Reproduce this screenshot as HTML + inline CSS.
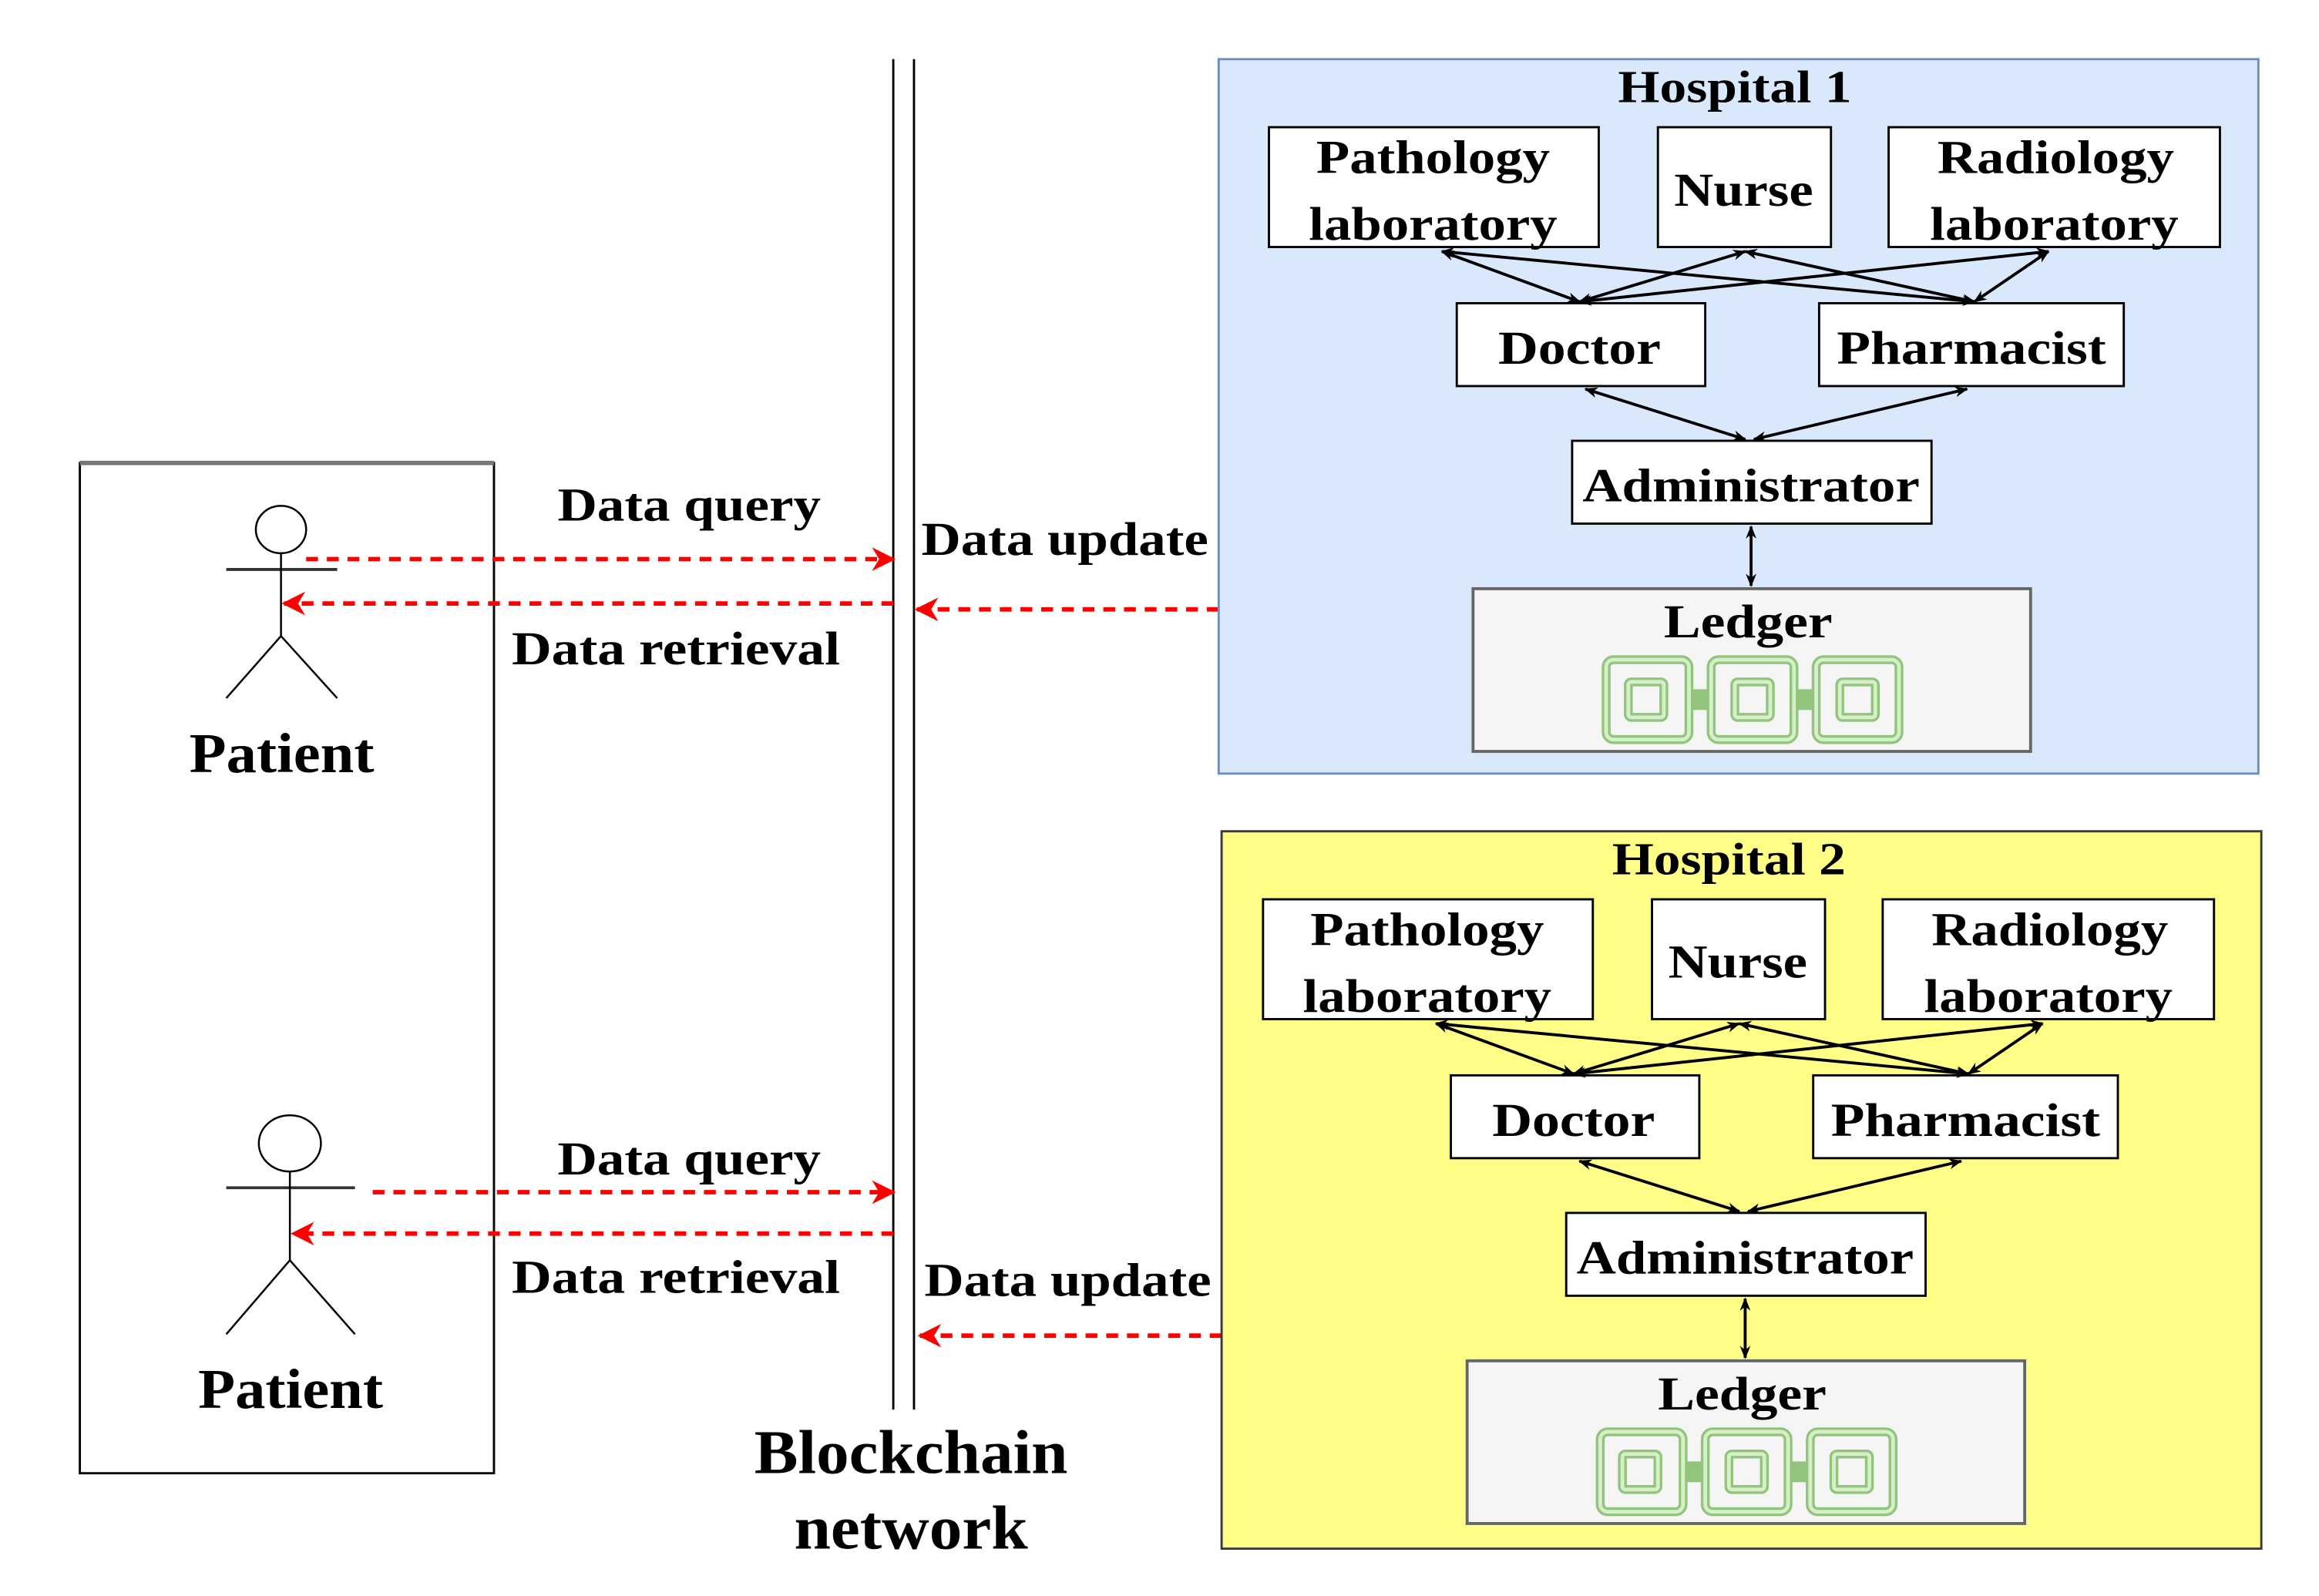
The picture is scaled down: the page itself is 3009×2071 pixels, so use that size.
<!DOCTYPE html>
<html><head><meta charset="utf-8"><style>
html,body{margin:0;padding:0;background:#fff}
svg{display:block}
svg text{font-family:"Liberation Serif","Tinos","Times New Roman","Nimbus Roman","FreeSerif","DejaVu Serif",serif;font-weight:bold;fill:#000}
</style></head><body>
<svg width="3009" height="2071" viewBox="0 0 1568 1079" preserveAspectRatio="none" xmlns="http://www.w3.org/2000/svg">
<defs>
<marker id="ab" viewBox="0 0 10 10" refX="9" refY="5" markerWidth="9" markerHeight="9" orient="auto-start-reverse" markerUnits="userSpaceOnUse"><path d="M0,1 L10,5 L0,9 L3,5 z" fill="#000"/></marker>
<marker id="ar" viewBox="0 0 10 10" refX="9" refY="5" markerWidth="16" markerHeight="20" orient="auto" markerUnits="userSpaceOnUse"><path d="M0,0 L10,5 L0,10 L3,5 z" fill="#f00"/></marker>
</defs>

<rect x="54" y="313" width="280" height="683" fill="none" stroke="#000" stroke-width="1.5"/>
<line x1="54" y1="313" x2="334" y2="313" stroke="#777" stroke-width="3"/>

<g stroke="#000" stroke-width="1.3" fill="none">
<ellipse cx="190" cy="358" rx="17" ry="16"/>
<line x1="153" y1="385" x2="228" y2="385" stroke="#333" stroke-width="2"/>
<line x1="190" y1="374" x2="190" y2="430"/>
<line x1="190" y1="430" x2="153" y2="472"/>
<line x1="190" y1="430" x2="228" y2="472"/>
</g>
<text x="128" y="522" font-size="38" textLength="125" lengthAdjust="spacingAndGlyphs">Patient</text>

<g stroke="#000" stroke-width="1.3" fill="none">
<ellipse cx="196" cy="773" rx="21" ry="19"/>
<line x1="153" y1="803" x2="240" y2="803" stroke="#333" stroke-width="2"/>
<line x1="196" y1="792" x2="196" y2="852"/>
<line x1="196" y1="852" x2="153" y2="902"/>
<line x1="196" y1="852" x2="240" y2="902"/>
</g>
<text x="134" y="952" font-size="38" textLength="125" lengthAdjust="spacingAndGlyphs">Patient</text>

<line x1="604" y1="40" x2="604" y2="953" stroke="#000" stroke-width="1.5"/>
<line x1="618" y1="40" x2="618" y2="953" stroke="#000" stroke-width="1.5"/>
<text x="510" y="996" font-size="42" textLength="212" lengthAdjust="spacingAndGlyphs">Blockchain</text>
<text x="537" y="1047" font-size="42" textLength="158" lengthAdjust="spacingAndGlyphs">network</text>

<g stroke="#f00" stroke-width="3" stroke-dasharray="8,6" fill="none">
<line x1="207" y1="378" x2="604" y2="378" marker-end="url(#ar)"/>
<line x1="604" y1="408" x2="192" y2="408" marker-end="url(#ar)"/>
<line x1="824" y1="412" x2="620" y2="412" marker-end="url(#ar)"/>
<line x1="252" y1="806" x2="604" y2="806" marker-end="url(#ar)"/>
<line x1="604" y1="834" x2="198" y2="834" marker-end="url(#ar)"/>
<line x1="826" y1="903" x2="622" y2="903" marker-end="url(#ar)"/>
</g>
<g font-size="32" lengthAdjust="spacingAndGlyphs">
<text x="377" y="352" textLength="178" lengthAdjust="spacingAndGlyphs">Data query</text>
<text x="623" y="375" textLength="194" lengthAdjust="spacingAndGlyphs">Data update</text>
<text x="346" y="449" textLength="222" lengthAdjust="spacingAndGlyphs">Data retrieval</text>
<text x="377" y="794" textLength="178" lengthAdjust="spacingAndGlyphs">Data query</text>
<text x="346" y="874" textLength="222" lengthAdjust="spacingAndGlyphs">Data retrieval</text>
<text x="625" y="876" textLength="194" lengthAdjust="spacingAndGlyphs">Data update</text>
</g>

<rect x="824" y="40" width="703" height="483" fill="#dae8fc" stroke="#6c8ebf" stroke-width="1.5"/>
<g>
<text x="1094" y="69" font-size="31" textLength="158" lengthAdjust="spacingAndGlyphs">Hospital 1</text>
<g fill="#fff" stroke="#000" stroke-width="1.5">
<rect x="858" y="86" width="223" height="81"/>
<rect x="1121" y="86" width="117" height="81"/>
<rect x="1277" y="86" width="224" height="81"/>
<rect x="985" y="205" width="168" height="56"/>
<rect x="1230" y="205" width="206" height="56"/>
<rect x="1063" y="298" width="243" height="56"/>
</g>
<g font-size="32">
<text x="890" y="117" textLength="158" lengthAdjust="spacingAndGlyphs">Pathology</text>
<text x="885" y="162" textLength="168" lengthAdjust="spacingAndGlyphs">laboratory</text>
<text x="1132" y="139" textLength="94" lengthAdjust="spacingAndGlyphs">Nurse</text>
<text x="1310" y="117" textLength="160" lengthAdjust="spacingAndGlyphs">Radiology</text>
<text x="1305" y="162" textLength="168" lengthAdjust="spacingAndGlyphs">laboratory</text>
<text x="1013" y="246" textLength="110" lengthAdjust="spacingAndGlyphs">Doctor</text>
<text x="1242" y="246" textLength="182" lengthAdjust="spacingAndGlyphs">Pharmacist</text>
<text x="1070" y="339" textLength="228" lengthAdjust="spacingAndGlyphs">Administrator</text>
</g>
<g stroke="#000" stroke-width="2" marker-start="url(#ab)" marker-end="url(#ab)">
<line x1="975" y1="170" x2="1068" y2="204"/>
<line x1="975" y1="170" x2="1335" y2="204"/>
<line x1="1180" y1="170" x2="1068" y2="204"/>
<line x1="1180" y1="170" x2="1335" y2="204"/>
<line x1="1385" y1="170" x2="1068" y2="204"/>
<line x1="1385" y1="170" x2="1335" y2="204"/>
<line x1="1072" y1="263" x2="1180" y2="297"/>
<line x1="1330" y1="263" x2="1186" y2="297"/>
<line x1="1184" y1="356" x2="1184" y2="396"/>
</g>
<rect x="996" y="398" width="377" height="110" fill="#f5f5f5" stroke="#666" stroke-width="2"/>
<text x="1125" y="431" font-size="32" textLength="114" lengthAdjust="spacingAndGlyphs">Ledger</text>
<g fill="none" stroke="#93c47d" stroke-width="6">
<rect x="1086" y="446" width="56" height="54" rx="5"/>
<rect x="1157" y="446" width="56" height="54" rx="5"/>
<rect x="1228" y="446" width="56" height="54" rx="5"/>
<line x1="1142" y1="473" x2="1157" y2="473" stroke-width="14"/>
<line x1="1213" y1="473" x2="1228" y2="473" stroke-width="14"/>
<rect x="1101" y="461" width="24" height="24" rx="2"/>
<rect x="1173" y="461" width="24" height="24" rx="2"/>
<rect x="1244" y="461" width="24" height="24" rx="2"/>
</g>
<g fill="none" stroke="#d5efc8" stroke-width="2.5">
<rect x="1086" y="446" width="56" height="54" rx="5"/>
<rect x="1157" y="446" width="56" height="54" rx="5"/>
<rect x="1228" y="446" width="56" height="54" rx="5"/>
<rect x="1101" y="461" width="24" height="24" rx="2"/>
<rect x="1173" y="461" width="24" height="24" rx="2"/>
<rect x="1244" y="461" width="24" height="24" rx="2"/>
</g>
</g>

<rect x="826" y="562" width="703" height="485" fill="#ffff88" stroke="#36393d" stroke-width="1.5"/>
<g transform="translate(-4,522)">
<text x="1094" y="69" font-size="31" textLength="158" lengthAdjust="spacingAndGlyphs">Hospital 2</text>
<g fill="#fff" stroke="#000" stroke-width="1.5">
<rect x="858" y="86" width="223" height="81"/>
<rect x="1121" y="86" width="117" height="81"/>
<rect x="1277" y="86" width="224" height="81"/>
<rect x="985" y="205" width="168" height="56"/>
<rect x="1230" y="205" width="206" height="56"/>
<rect x="1063" y="298" width="243" height="56"/>
</g>
<g font-size="32">
<text x="890" y="117" textLength="158" lengthAdjust="spacingAndGlyphs">Pathology</text>
<text x="885" y="162" textLength="168" lengthAdjust="spacingAndGlyphs">laboratory</text>
<text x="1132" y="139" textLength="94" lengthAdjust="spacingAndGlyphs">Nurse</text>
<text x="1310" y="117" textLength="160" lengthAdjust="spacingAndGlyphs">Radiology</text>
<text x="1305" y="162" textLength="168" lengthAdjust="spacingAndGlyphs">laboratory</text>
<text x="1013" y="246" textLength="110" lengthAdjust="spacingAndGlyphs">Doctor</text>
<text x="1242" y="246" textLength="182" lengthAdjust="spacingAndGlyphs">Pharmacist</text>
<text x="1070" y="339" textLength="228" lengthAdjust="spacingAndGlyphs">Administrator</text>
</g>
<g stroke="#000" stroke-width="2" marker-start="url(#ab)" marker-end="url(#ab)">
<line x1="975" y1="170" x2="1068" y2="204"/>
<line x1="975" y1="170" x2="1335" y2="204"/>
<line x1="1180" y1="170" x2="1068" y2="204"/>
<line x1="1180" y1="170" x2="1335" y2="204"/>
<line x1="1385" y1="170" x2="1068" y2="204"/>
<line x1="1385" y1="170" x2="1335" y2="204"/>
<line x1="1072" y1="263" x2="1180" y2="297"/>
<line x1="1330" y1="263" x2="1186" y2="297"/>
<line x1="1184" y1="356" x2="1184" y2="396"/>
</g>
<rect x="996" y="398" width="377" height="110" fill="#f5f5f5" stroke="#666" stroke-width="2"/>
<text x="1125" y="431" font-size="32" textLength="114" lengthAdjust="spacingAndGlyphs">Ledger</text>
<g fill="none" stroke="#93c47d" stroke-width="6">
<rect x="1086" y="446" width="56" height="54" rx="5"/>
<rect x="1157" y="446" width="56" height="54" rx="5"/>
<rect x="1228" y="446" width="56" height="54" rx="5"/>
<line x1="1142" y1="473" x2="1157" y2="473" stroke-width="14"/>
<line x1="1213" y1="473" x2="1228" y2="473" stroke-width="14"/>
<rect x="1101" y="461" width="24" height="24" rx="2"/>
<rect x="1173" y="461" width="24" height="24" rx="2"/>
<rect x="1244" y="461" width="24" height="24" rx="2"/>
</g>
<g fill="none" stroke="#d5efc8" stroke-width="2.5">
<rect x="1086" y="446" width="56" height="54" rx="5"/>
<rect x="1157" y="446" width="56" height="54" rx="5"/>
<rect x="1228" y="446" width="56" height="54" rx="5"/>
<rect x="1101" y="461" width="24" height="24" rx="2"/>
<rect x="1173" y="461" width="24" height="24" rx="2"/>
<rect x="1244" y="461" width="24" height="24" rx="2"/>
</g>
</g>
</svg>
</body></html>
